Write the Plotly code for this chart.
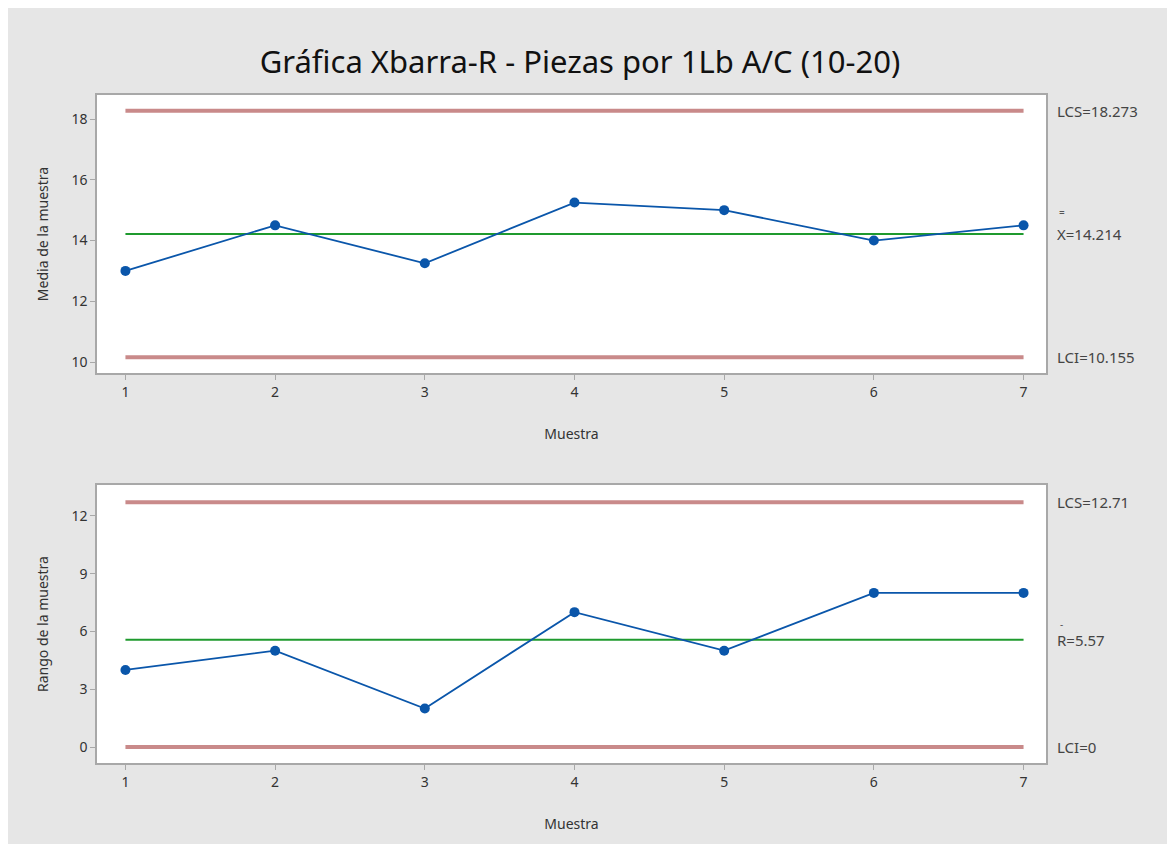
import plotly.graph_objects as go

muestras = [1, 2, 3, 4, 5, 6, 7]
medias = [13.0, 14.5, 13.25, 15.25, 15.0, 14.0, 14.5]
rangos = [4, 5, 2, 7, 5, 8, 8]
lcs_x, centro_x, lci_x = 18.273, 14.214, 10.155
lcs_r, centro_r, lci_r = 12.71, 5.57, 0.0
xbar_ticks = [10, 12, 14, 16, 18]
r_ticks = [0, 3, 6, 9, 12]

W, H = 1175, 844
OFF = 8
FONT = "Noto Sans"
BG = "#e6e6e6"
LIM_C = "#c98a8a"
CEN_C = "#1f9a2e"
DATA_C = "#0a56aa"

fig = go.Figure()

def px_x(p):
    return (p - OFF) / W

def px_y(p):
    return 1 - (p - OFF) / H

xdom = [px_x(97), px_x(1046)]
top_dom = [px_y(373), px_y(95)]
bot_dom = [px_y(763), px_y(485)]
xr = [0.81, 7.15]

for ax, vals, lcs, cen, lci in [("", medias, lcs_x, centro_x, lci_x), ("2", rangos, lcs_r, centro_r, lci_r)]:
    xa, ya = "x" + ax, "y" + ax
    x_ends = [muestras[0], muestras[-1]]
    fig.add_trace(go.Scatter(x=x_ends, y=[lcs, lcs], mode="lines", line=dict(color=LIM_C, width=4), xaxis=xa, yaxis=ya, hoverinfo="skip", showlegend=False))
    fig.add_trace(go.Scatter(x=x_ends, y=[lci, lci], mode="lines", line=dict(color=LIM_C, width=4), xaxis=xa, yaxis=ya, hoverinfo="skip", showlegend=False))
    fig.add_trace(go.Scatter(x=x_ends, y=[cen, cen], mode="lines", line=dict(color=CEN_C, width=2), xaxis=xa, yaxis=ya, hoverinfo="skip", showlegend=False))
    fig.add_trace(go.Scatter(x=muestras, y=vals, mode="lines+markers", line=dict(color=DATA_C, width=1.8), marker=dict(color=DATA_C, size=10), xaxis=xa, yaxis=ya, showlegend=False))

axis_common = dict(
    showgrid=False, zeroline=False, showline=True, mirror=True,
    linecolor="#a8a8a8", linewidth=1.5, ticks="outside", ticklen=5,
    tickcolor="#a8a8a8", tickfont=dict(family=FONT, size=14, color="#333333"),
)
ttl_font = dict(family=FONT, size=14, color="#333333")

fig.update_layout(
    width=W, height=H,
    margin=dict(l=0, r=0, t=0, b=0),
    paper_bgcolor=BG, plot_bgcolor="white",
    title=dict(text="Gráfica Xbarra-R - Piezas por 1Lb A/C (10-20)", x=px_x(580), xanchor="center", y=px_y(62), yanchor="middle",
               font=dict(family=FONT, size=31, color="#111111")),
    xaxis=dict(domain=xdom, range=xr, tickvals=muestras, anchor="y", **axis_common,
               title=dict(text="Muestra", font=ttl_font, standoff=30)),
    yaxis=dict(domain=top_dom, range=[9.64, 18.79], tickvals=xbar_ticks, anchor="x", **axis_common,
               title=dict(text="Media de la muestra", font=ttl_font, standoff=20)),
    xaxis2=dict(domain=xdom, range=xr, tickvals=muestras, anchor="y2", **axis_common,
                title=dict(text="Muestra", font=ttl_font, standoff=30)),
    yaxis2=dict(domain=bot_dom, range=[-0.83, 13.6], tickvals=r_ticks, anchor="x2", **axis_common,
                title=dict(text="Rango de la muestra", font=ttl_font, standoff=20)),
)

lab_font = dict(family=FONT, size=15, color="#444444")
lx = px_x(1055)
labels = [
    ("LCS=18.273", "y", lcs_x), ("X=14.214", "y", centro_x), ("LCI=10.155", "y", lci_x),
    ("LCS=12.71", "y2", lcs_r), ("R=5.57", "y2", centro_r), ("LCI=0", "y2", lci_r),
]
for txt, yref, yv in labels:
    fig.add_annotation(text=txt, xref="paper", x=lx, xanchor="left", yref=yref, y=yv, yanchor="middle",
                       showarrow=False, font=lab_font)
# overbars
fig.add_annotation(text="=", xref="paper", x=px_x(1057), xanchor="left", yref="y", y=centro_x, yshift=22,
                   yanchor="middle", showarrow=False, font=dict(family=FONT, size=10, color="#555555"))
fig.add_annotation(text="-", xref="paper", x=px_x(1058), xanchor="left", yref="y2", y=centro_r, yshift=16,
                   yanchor="middle", showarrow=False, font=dict(family=FONT, size=10, color="#555555"))

fig.write_html("out.html")
